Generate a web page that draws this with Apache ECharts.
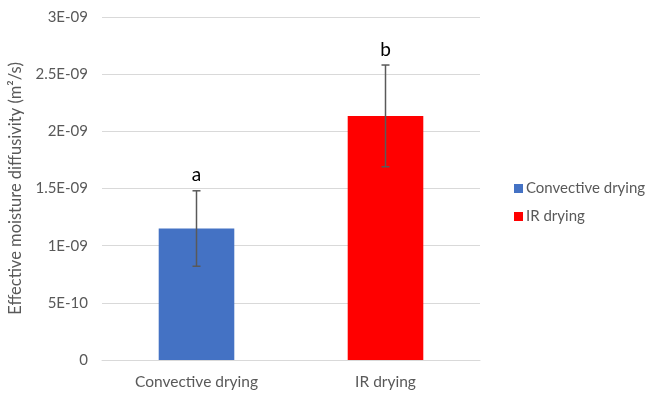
<!DOCTYPE html>
<html><head><meta charset="utf-8">
<script src="https://cdn.jsdelivr.net/npm/echarts@6/dist/echarts.min.js"></script>
<style>html,body{margin:0;padding:0;background:#fff}#c{width:649px;height:394px}</style>
</head><body><div id="c"></div>
<script>
var categories = ['Convective drying', 'IR drying'];
var seriesNames = ['Convective drying', 'IR drying'];
var means = [1.15e-9, 2.135e-9];
var errors = [0.33e-9, 0.445e-9];
var letters = ['a', 'b'];
var yTickLabels = ['0', '5E-10', '1E-09', '1.5E-09', '2E-09', '2.5E-09', '3E-09'];
var colors = ['#4472C4', '#FF0000'];

var FONT = 'Lato, "Open Sans", sans-serif';
var chart = echarts.init(document.getElementById('c'));

var barSeries = seriesNames.map(function (name, i) {
  return {
    name: name, type: 'bar', barWidth: '40%', barGap: '-100%',
    itemStyle: { color: colors[i] },
    data: categories.map(function (c, j) { return j === i ? means[j] : null; })
  };
});

var errData = categories.map(function (c, j) {
  return [j, means[j] - errors[j], means[j] + errors[j], letters[j]];
});

chart.setOption({
  animation: false,
  textStyle: { fontFamily: FONT },
  grid: { left: 102, right: 169, top: 17, bottom: 34, containLabel: false, outerBoundsMode: 'none' },
  legend: {
    orient: 'vertical', left: 509, top: 176,
    itemWidth: 9, itemHeight: 9, itemGap: 13,
    icon: 'rect',
    textStyle: { color: '#595959', fontSize: 15, fontFamily: FONT, padding: [0, 0, 0, -2] },
    data: seriesNames
  },
  xAxis: {
    type: 'category', data: categories,
    axisLine: { lineStyle: { color: '#D9D9D9' } },
    axisTick: { show: false },
    axisLabel: { color: '#595959', fontSize: 15.5, margin: 14, fontFamily: FONT }
  },
  yAxis: {
    type: 'value', min: 0, max: 3e-9, interval: 5e-10,
    name: 'Effective moisture diffusivity (m²/s)',
    nameLocation: 'middle', nameGap: 78,
    nameTextStyle: { color: '#595959', fontSize: 16.5, fontFamily: FONT },
    axisLine: { show: false },
    axisTick: { show: false },
    splitLine: { lineStyle: { color: '#D9D9D9' } },
    axisLabel: {
      color: '#595959', fontSize: 15, margin: 14, fontFamily: FONT,
      formatter: function (v) { return yTickLabels[Math.round(v / 5e-10)]; }
    }
  },
  series: barSeries.concat([{
    type: 'custom', name: 'err', z: 10,
    data: errData,
    encode: { x: 0, y: [1, 2] },
    renderItem: function (params, api) {
      var x = api.value(0);
      var lo = api.coord([x, api.value(1)]);
      var hi = api.coord([x, api.value(2)]);
      var cap = 4;
      var st = { stroke: '#595959', lineWidth: 1.5 };
      return {
        type: 'group',
        children: [
          { type: 'line', shape: { x1: lo[0], y1: lo[1], x2: hi[0], y2: hi[1] }, style: st },
          { type: 'line', shape: { x1: lo[0] - cap, y1: lo[1], x2: lo[0] + cap, y2: lo[1] }, style: st },
          { type: 'line', shape: { x1: hi[0] - cap, y1: hi[1], x2: hi[0] + cap, y2: hi[1] }, style: st },
          { type: 'text', style: { text: api.value(3), x: hi[0], y: hi[1] - 6, align: 'center', verticalAlign: 'bottom', fill: '#000', fontSize: 19, fontFamily: FONT } }
        ]
      };
    }
  }])
});
</script></body></html>
